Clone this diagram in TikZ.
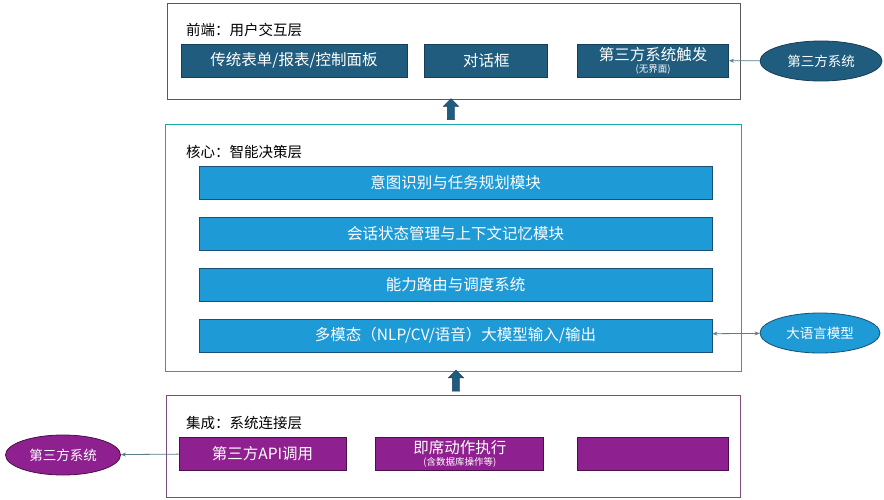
\documentclass[tikz,border=0pt]{standalone}
\usepackage{fontspec}
\setmainfont{Noto Sans CJK SC}
\usetikzlibrary{arrows.meta,positioning,shapes.geometric,shapes.arrows}
\definecolor{navy}{HTML}{1F5C7E}
\definecolor{navyline}{HTML}{163F57}
\definecolor{sky}{HTML}{1E9AD6}
\definecolor{skyline}{HTML}{1B4F78}
\definecolor{plum}{HTML}{8E2090}
\definecolor{plumline}{HTML}{4A1048}
\definecolor{wire}{HTML}{5C7C8C}

\begin{document}
\begin{tikzpicture}[
  x=1pt, y=-1pt,
  font=\fontsize{15.5}{17}\selectfont,
  >={Stealth[length=5pt,width=4pt]},
  layer/.style={draw, line width=0.9pt, inner sep=0},
  title/.style={anchor=west, inner sep=0, font=\fontsize{14.5}{16}\selectfont},
  box/.style={draw, line width=0.8pt, minimum height=33pt, inner sep=0, text=white, align=center},
  navybox/.style={box, fill=navy, draw=navyline},
  skybox/.style={box, fill=sky, draw=skyline, minimum width=513pt},
  plumbox/.style={box, fill=plum, draw=plumline},
  sys/.style={ellipse, draw, line width=0.8pt, inner sep=0, minimum height=40pt, text=white, font=\fontsize{13.5}{15}\selectfont},
  uparrow/.style={single arrow, shape border rotate=90, fill=navy, draw=navyline, inner sep=3.5pt,
    single arrow head extend=4pt, single arrow head indent=0pt, minimum height=21pt},
  link/.style={->, line width=0.8pt, draw=wire}
]
\useasboundingbox[fill=white] (0,0) rectangle (884,500);

\node[layer, draw=gray!70!black, minimum width=573pt, minimum height=96pt] (front) at (453.5,51) {};
\node[title] (fronttitle) at (186,30) {前端：用户交互层};
\node[navybox, minimum width=226pt] (forms) at (294,60.5) {传统表单/报表/控制面板};
\node[navybox, minimum width=123pt, right=17pt of forms] (dialog) {对话框};
\node[navybox, minimum width=151pt, right=29pt of dialog] (trigger) {第三方系统触发\\[-5pt]{\fontsize{9.5}{10}\selectfont (无界面)}};
\node[sys, fill=navy, draw=navyline, minimum width=122pt] (extin) at (821,61) {第三方系统};
\draw[link] (extin) -- (trigger);

\node[uparrow] (uptop) at (451,111) {};

\node[layer, draw=teal!60!cyan!80!gray, minimum width=576pt, minimum height=247pt] (core) at (453,247.5) {};
\node[title] (coretitle) at (186,152) {核心：智能决策层};
\node[skybox] (intent) at (455.5,183) {意图识别与任务规划模块};
\node[skybox, below=17pt of intent] (memory) {会话状态管理与上下文记忆模块};
\node[skybox, below=17pt of memory] (route) {能力路由与调度系统};
\node[skybox, below=17pt of route] (modal) {多模态（NLP/CV/语音）大模型输入/输出};
\node[sys, fill=sky, draw=skyline, minimum width=120pt] (llm) at (820,333) {大语言模型};
\draw[link, <->] (modal) -- (llm);

\node[uparrow] (upbottom) at (456,382.5) {};

\node[layer, draw=violet!40!gray, minimum width=574pt, minimum height=102pt] (integ) at (453,446) {};
\node[title] (integtitle) at (186,423) {集成：系统连接层};
\node[plumbox, minimum width=167pt] (api) at (262.5,453.5) {第三方API调用};
\node[plumbox, minimum width=168pt, right=29pt of api] (action) {即席动作执行\\[-5pt]{\fontsize{9.5}{10}\selectfont (含数据库操作等)}};
\node[plumbox, minimum width=151pt, right=33pt of action] (third) {};
\node[sys, fill=plum, draw=plumline, minimum width=115pt] (extout) at (63,455) {第三方系统};
\draw[link] (api) -- (extout);
\end{tikzpicture}
\end{document}
